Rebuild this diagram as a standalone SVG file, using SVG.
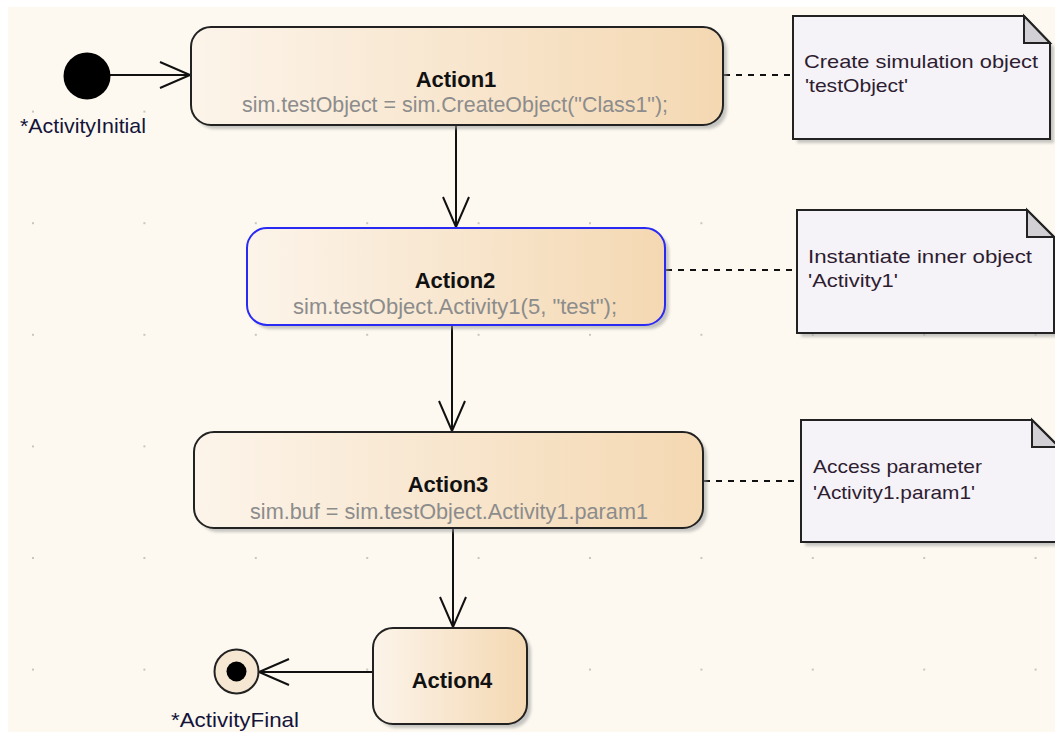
<svg xmlns="http://www.w3.org/2000/svg" width="1055" height="732" viewBox="0 0 1055 732">
<defs>
  <linearGradient id="act" x1="0" y1="0" x2="1" y2="0">
    <stop offset="0" stop-color="#fcf4ea"/>
    <stop offset="1" stop-color="#f4d8b2"/>
  </linearGradient>
  <pattern id="grid" x="-22.7" y="-55.8" width="111.4" height="111.6" patternUnits="userSpaceOnUse">
    <rect x="54.7" y="54.8" width="2" height="2" fill="#c9c6c0"/>
  </pattern>
  <filter id="sh" x="-10%" y="-10%" width="130%" height="130%">
    <feGaussianBlur stdDeviation="1.5"/>
  </filter>
  <marker id="open" markerWidth="34" markerHeight="30" refX="32" refY="14" orient="auto" markerUnits="userSpaceOnUse">
    <path d="M2,1 L32,14 L2,27" fill="none" stroke="#111" stroke-width="2"/>
  </marker>
</defs>
<style>
  .box{fill:url(#act);stroke:#222;stroke-width:2}
  .sel{fill:url(#act);stroke:#2a2af5;stroke-width:2}
  .shadow{fill:#9a9a9a;opacity:0.55;filter:url(#sh)}
  .title{font-family:"Liberation Sans",Arial,sans-serif;font-weight:bold;font-size:22px;fill:#111;text-anchor:middle}
  .sub{font-family:"Liberation Sans",Arial,sans-serif;font-size:21.5px;fill:#8c8c8c;text-anchor:middle}
  .lbl{font-family:"Liberation Sans",Arial,sans-serif;font-size:21px;fill:#14143a}
  .note{fill:#f5f3f8;stroke:#222;stroke-width:2}
  .fold{fill:#d3d0d5;stroke:#222;stroke-width:2;stroke-linejoin:miter}
  .ntxt{font-family:"Liberation Sans",Arial,sans-serif;font-size:19px;fill:#2e1c30}
  .flow{stroke:#111;stroke-width:2;fill:none;marker-end:url(#open)}
  .anchor{stroke:#111;stroke-width:2;fill:none;stroke-dasharray:6 6}
</style>
<rect x="0" y="0" width="1055" height="732" fill="#ffffff"/>
<rect x="8" y="7" width="1047" height="725" fill="#fdf9f0"/>
<rect x="8" y="7" width="1047" height="725" fill="url(#grid)"/>

<g id="connectors">
  <line class="flow" x1="110" y1="75" x2="190" y2="75"/>
  <line class="flow" x1="456" y1="125" x2="456" y2="227"/>
  <line class="flow" x1="452" y1="326" x2="452" y2="431"/>
  <line class="flow" x1="453" y1="529" x2="453" y2="627"/>
  <line class="flow" x1="373" y1="672" x2="259" y2="672"/>
  <line class="anchor" x1="724" y1="75" x2="793" y2="75"/>
  <line class="anchor" x1="666" y1="270" x2="797" y2="270"/>
  <line class="anchor" x1="704" y1="481" x2="801" y2="481"/>
</g>

<g id="initial">
  <circle cx="87" cy="76" r="23.5" fill="#000"/>
  <text class="lbl" x="20" y="133" textLength="126" lengthAdjust="spacingAndGlyphs">*ActivityInitial</text>
</g>

<g id="action1">
  <rect class="shadow" x="195" y="31" width="532" height="98" rx="20"/>
  <rect class="box" x="191" y="27" width="532" height="98" rx="20"/>
  <text class="title" x="456" y="87">Action1</text>
  <text class="sub" x="455" y="112" textLength="426" lengthAdjust="spacingAndGlyphs">sim.testObject = sim.CreateObject("Class1");</text>
</g>

<g id="action2">
  <rect class="shadow" x="251" y="232" width="418" height="97" rx="20"/>
  <rect class="sel" x="247" y="228" width="418" height="97" rx="20"/>
  <text class="title" x="455" y="288">Action2</text>
  <text class="sub" x="455" y="314" textLength="324" lengthAdjust="spacingAndGlyphs">sim.testObject.Activity1(5, "test");</text>
</g>

<g id="action3">
  <rect class="shadow" x="198" y="436" width="509" height="96" rx="20"/>
  <rect class="box" x="194" y="432" width="509" height="96" rx="20"/>
  <text class="title" x="448" y="492">Action3</text>
  <text class="sub" x="449" y="519" textLength="398" lengthAdjust="spacingAndGlyphs">sim.buf = sim.testObject.Activity1.param1</text>
</g>

<g id="action4">
  <rect class="shadow" x="377" y="632" width="154" height="96" rx="20"/>
  <rect class="box" x="373" y="628" width="154" height="96" rx="20"/>
  <text class="title" x="452" y="688">Action4</text>
</g>

<g id="final">
  <circle cx="236.5" cy="671.5" r="22" fill="#f6e7d2" stroke="#222" stroke-width="2"/>
  <circle cx="236.5" cy="671.5" r="10" fill="#000"/>
  <text class="lbl" x="235" y="727" text-anchor="middle" textLength="128" lengthAdjust="spacingAndGlyphs">*ActivityFinal</text>
</g>

<g id="note1">
  <path class="shadow" d="M797,20 H1028 L1054,47 V143 H797 Z"/>
  <path class="note" d="M793,16 H1024 L1050,43 V139 H793 Z"/>
  <path class="fold" d="M1024,16 V43 H1050 Z"/>
  <text class="ntxt" x="804" y="68" textLength="234" lengthAdjust="spacingAndGlyphs">Create simulation object</text>
  <text class="ntxt" x="805" y="92" textLength="103" lengthAdjust="spacingAndGlyphs">'testObject'</text>
</g>

<g id="note2">
  <path class="shadow" d="M801,214 H1031 L1058,241 V337 H801 Z"/>
  <path class="note" d="M797,210 H1027 L1054,237 V333 H797 Z"/>
  <path class="fold" d="M1027,210 V237 H1054 Z"/>
  <text class="ntxt" x="808" y="263" textLength="224" lengthAdjust="spacingAndGlyphs">Instantiate inner object</text>
  <text class="ntxt" x="808" y="287" textLength="90" lengthAdjust="spacingAndGlyphs">'Activity1'</text>
</g>

<g id="note3">
  <path class="shadow" d="M805,424 H1036 L1063,451 V546 H805 Z"/>
  <path class="note" d="M801,420 H1032 L1059,447 V542 H801 Z"/>
  <path class="fold" d="M1032,420 V447 H1059 Z"/>
  <text class="ntxt" x="813" y="473" textLength="169" lengthAdjust="spacingAndGlyphs">Access parameter</text>
  <text class="ntxt" x="813" y="499" textLength="162" lengthAdjust="spacingAndGlyphs">'Activity1.param1'</text>
</g>
</svg>
